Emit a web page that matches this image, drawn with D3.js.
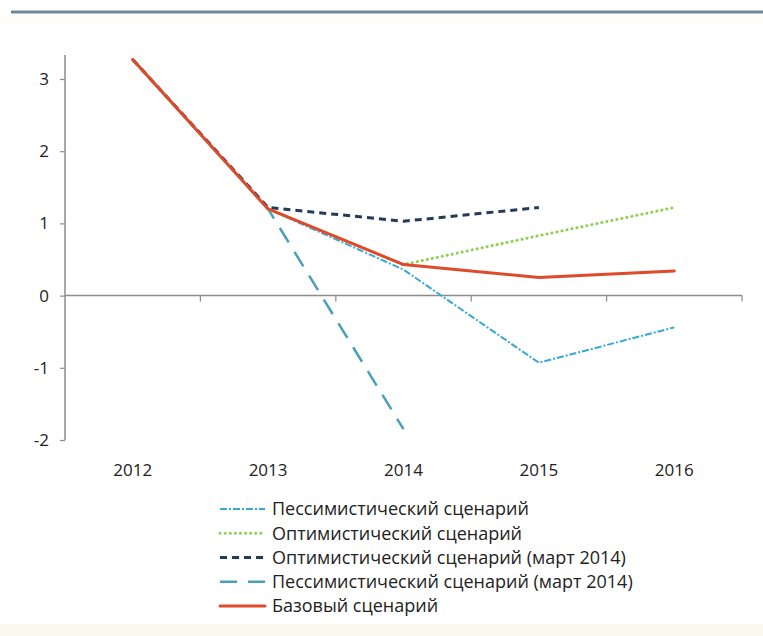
<!DOCTYPE html>
<html>
<head>
<meta charset="utf-8">
<script src="https://cdn.jsdelivr.net/npm/d3@7"></script>
<style>
  html, body { margin: 0; padding: 0; background: #ffffff; }
  svg { display: block; }
  text { font-family: "Open Sans", "Noto Sans", sans-serif; fill: #222; }
</style>
</head>
<body>
<svg id="chart" width="763" height="636"></svg>
<script>
// Years on the category axis
const years = ["2012", "2013", "2014", "2015", "2016"];

// Scenario values by year (null = no value for that year)
const pessimistic      = [3.27, 1.20, 0.36, -0.93, -0.44];
const optimistic       = [3.27, 1.20, 0.43, 0.83, 1.22];
const optimisticMarch  = [3.27, 1.22, 1.03, 1.22, null];
const pessimisticMarch = [3.27, 1.20, -1.85, null, null];
const baseline         = [3.27, 1.20, 0.43, 0.25, 0.34];

// Value-axis ticks
const yTicks = [-2, -1, 0, 1, 2, 3];

// Legend labels
const labels = [
  "Пессимистический сценарий",
  "Оптимистический сценарий",
  "Оптимистический сценарий (март 2014)",
  "Пессимистический сценарий (март 2014)",
  "Базовый сценарий"
];

const svg = d3.select("#chart");

// Frame decorations: rule at top, pale band at bottom
svg.append("rect").attr("x", 0).attr("y", 15).attr("width", 763).attr("height", 8).attr("fill", "#fffdf3");
svg.append("line").attr("x1", 11).attr("x2", 763).attr("y1", 12).attr("y2", 12)
  .attr("stroke", "#6f8898").attr("stroke-width", 3);
svg.append("rect").attr("x", 0).attr("y", 624).attr("width", 763).attr("height", 12).attr("fill", "#fcfaee");

const plot = { left: 65, right: 742, top: 55, bottom: 440 };

const x = d3.scaleBand().domain(years).range([plot.left, plot.right]);
const y = d3.scaleLinear().domain([-2, 3]).range([440, 79]);

const axisColor = "#8c8c8c";

// Value axis (plain hyphen for negatives)
const yAxis = svg.append("g").attr("transform", `translate(${plot.left},0)`)
  .call(d3.axisLeft(y).tickValues(yTicks).tickSize(5).tickFormat(d => String(d)));
yAxis.select(".domain").remove();
yAxis.append("line").attr("x1", 0).attr("x2", 0).attr("y1", plot.top).attr("y2", y(-2))
  .attr("stroke", axisColor).attr("stroke-width", 1.5);
yAxis.selectAll(".tick line").attr("stroke", axisColor).attr("stroke-width", 1.2);
yAxis.selectAll(".tick text").attr("x", -16).attr("font-size", 17)
  .attr("font-family", "'Open Sans', sans-serif").attr("fill", "#222");

// Category axis crossing at zero, ticks between categories
const y0 = y(0);
const xAxis = svg.append("g");
xAxis.append("line").attr("x1", plot.left).attr("x2", plot.right).attr("y1", y0).attr("y2", y0)
  .attr("stroke", axisColor).attr("stroke-width", 1.5);
const boundaries = years.map(d => x(d)).concat([x(years[years.length - 1]) + x.bandwidth()]);
xAxis.selectAll("line.tk").data(boundaries.slice(1)).join("line").attr("class", "tk")
  .attr("x1", d => d).attr("x2", d => d).attr("y1", y0).attr("y2", y0 + 6)
  .attr("stroke", axisColor).attr("stroke-width", 1.2);
xAxis.selectAll("text").data(years).join("text")
  .attr("x", d => x(d) + x.bandwidth() / 2).attr("y", 476)
  .attr("text-anchor", "middle").attr("font-size", 17).text(d => d);

// Series styles
const series = [
  { values: pessimistic,      color: "#36a9d6", width: 2,   dash: "7,2,2,2", cap: "butt" },
  { values: optimistic,       color: "#8fcf4f", width: 3,   dash: "0.1,5",   cap: "round" },
  { values: optimisticMarch,  color: "#233a5c", width: 3,   dash: "7,5",     cap: "butt" },
  { values: pessimisticMarch, color: "#4a9fba", width: 2.5, dash: "17,11",   cap: "butt" },
  { values: baseline,         color: "#df4a2b", width: 3,   dash: null,      cap: "round" }
];

const line = d3.line()
  .defined(d => d.v !== null)
  .x(d => x(d.year) + x.bandwidth() / 2)
  .y(d => y(d.v));

// Draw back-to-front so the baseline sits on top
const drawOrder = [3, 0, 1, 2, 4];
drawOrder.forEach(i => {
  const s = series[i];
  svg.append("path")
    .datum(years.map((yr, j) => ({ year: yr, v: s.values[j] })))
    .attr("fill", "none")
    .attr("stroke", s.color)
    .attr("stroke-width", s.width)
    .attr("stroke-dasharray", s.dash)
    .attr("stroke-linecap", s.cap)
    .attr("stroke-linejoin", "round")
    .attr("d", line);
});

// Legend
const legend = svg.append("g");
const rowY = d3.scaleLinear().domain([0, 4]).range([509, 606]);
series.forEach((s, i) => {
  const g = legend.append("g").attr("transform", `translate(0,${rowY(i)})`);
  g.append("line").attr("x1", 220).attr("x2", 265).attr("y1", 0).attr("y2", 0)
    .attr("stroke", s.color).attr("stroke-width", s.width)
    .attr("stroke-dasharray", s.dash).attr("stroke-linecap", s.cap);
  g.append("text").attr("x", 272).attr("y", 0).attr("dy", "0.35em")
    .attr("font-size", 18).text(labels[i]);
});
</script>
</body>
</html>
